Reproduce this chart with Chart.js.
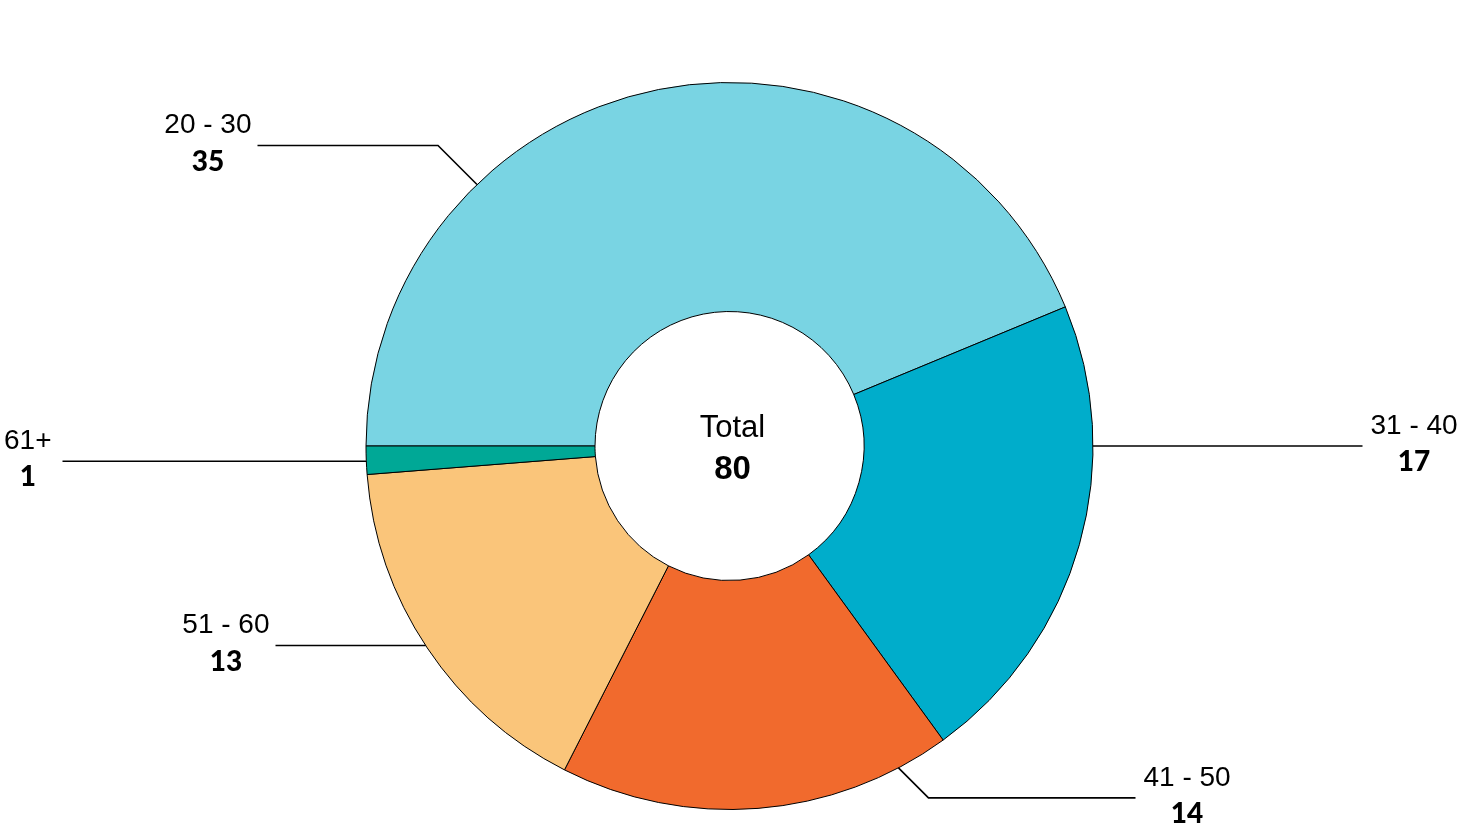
<!DOCTYPE html>
<html>
<head>
<meta charset="utf-8">
<script src="https://cdn.jsdelivr.net/npm/chart.js@4"></script>
<style>
  html, body { margin: 0; padding: 0; background: #fff; }
  #wrap { width: 1459px; height: 838px; }
</style>
</head>
<body>
<div id="wrap"><canvas id="age-chart"></canvas></div>
<script>
// Age groups and counts
const ageGroups = ['20 - 30', '31 - 40', '41 - 50', '51 - 60', '61+'];
const counts = [35, 17, 14, 13, 1];
const sliceColors = ['#79D4E3', '#00ADCB', '#F16A2D', '#FAC57A', '#00A896'];

// Leader line layout per slice: angle on the outer edge (deg, 0 = right, clockwise),
// diagonal rise before the horizontal run, and where the run ends (offset from centre)
const leaderAngles = [226, 0, 62.3, 146.7, 177.6];
const leaderRise = [-39, 0, 30, 0, 0];
const leaderEnd = [-472, 633, 406, -454, -667];

const labelFont = '"Liberation Sans", Arial, sans-serif';
const valueFont = 'Lato, "Liberation Sans", sans-serif';

// Draws the leader lines, outside labels and the total in the hole
const labelsPlugin = {
    id: 'outsideLabels',
    afterDraw(chart) {
        const ctx = chart.ctx;
        const arcs = chart.getDatasetMeta(0).data;
        if (!arcs.length) return;
        const cx = arcs[0].x, cy = arcs[0].y, r = arcs[0].outerRadius;

        ctx.save();
        ctx.strokeStyle = '#000';
        ctx.lineWidth = 1.6;
        ctx.fillStyle = '#000';
        ctx.textBaseline = 'middle';

        arcs.forEach((arc, i) => {
            const a = leaderAngles[i] * Math.PI / 180;
            const sx = cx + r * Math.cos(a);
            const sy = cy + r * Math.sin(a);
            const rise = leaderRise[i];
            const dir = leaderEnd[i] < 0 ? -1 : 1;
            const ex = sx + dir * Math.abs(rise);
            const ey = sy + rise;
            const endX = cx + leaderEnd[i];

            ctx.beginPath();
            ctx.moveTo(sx, sy);
            ctx.lineTo(ex, ey);
            ctx.lineTo(endX, ey);
            ctx.stroke();

            // label above, value below, just past the end of the line
            ctx.font = '28px ' + labelFont;
            const w = ctx.measureText(ageGroups[i]).width;
            const left = dir > 0 ? endX + 8 : endX - (i === 4 ? 11 : 6) - w;
            ctx.textAlign = 'left';
            ctx.fillText(ageGroups[i], left, ey - 20);
            ctx.font = '900 28px ' + valueFont;
            ctx.textAlign = 'center';
            ctx.fillText(String(counts[i]), left + w / 2, ey + 16);
        });

        const total = counts.reduce((s, v) => s + v, 0);
        ctx.textAlign = 'center';
        ctx.font = '31px ' + labelFont;
        ctx.fillText('Total', cx + 3, cy - 18);
        ctx.font = 'bold 33px ' + labelFont;
        ctx.fillText(String(total), cx + 3, cy + 24);
        ctx.restore();
    }
};

const ageChart = new Chart(document.getElementById('age-chart').getContext('2d'), {
    type: 'doughnut',
    data: {
        labels: ageGroups,
        datasets: [{
            data: counts,
            backgroundColor: sliceColors,
            borderColor: '#000',
            borderWidth: 1
        }]
    },
    options: {
        responsive: true,
        maintainAspectRatio: false,
        animation: false,
        rotation: -90,
        cutout: '37%',
        layout: { padding: { top: 82, bottom: 28 } },
        plugins: {
            legend: { display: false },
            tooltip: { enabled: false }
        }
    },
    plugins: [labelsPlugin]
});
</script>
</body>
</html>
